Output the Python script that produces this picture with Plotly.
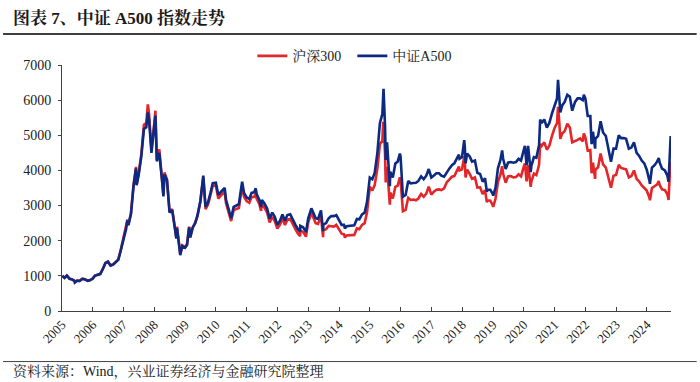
import plotly.graph_objects as go

# ---------------- data ----------------
dates = (
    ["2005-01-04", "2005-01-31", "2005-02-28", "2005-03-31", "2005-04-29", "2005-05-31", "2005-06-03", "2005-06-30", "2005-07-29", "2005-08-31", "2005-09-30", "2005-10-31", "2005-11-30", "2005-12-30"]
    + ["2006-01-26", "2006-02-28", "2006-03-31", "2006-04-28", "2006-05-31", "2006-06-30", "2006-07-31", "2006-08-31", "2006-09-29", "2006-10-31", "2006-11-30", "2006-12-29"]
    + ["2007-01-31", "2007-02-16", "2007-02-27", "2007-03-30", "2007-04-30", "2007-05-29", "2007-06-05", "2007-06-29", "2007-07-31", "2007-08-31", "2007-09-28", "2007-10-16", "2007-10-31", "2007-11-28", "2007-12-31"]
    + ["2008-01-14", "2008-01-31", "2008-02-29", "2008-03-31", "2008-04-18", "2008-04-30", "2008-05-30", "2008-06-30", "2008-07-31", "2008-08-29", "2008-09-18", "2008-09-26", "2008-10-31", "2008-11-04", "2008-11-28", "2008-12-31"]
    + ["2009-01-23", "2009-02-17", "2009-03-02", "2009-03-31", "2009-04-30", "2009-05-27", "2009-06-30", "2009-07-31", "2009-08-04", "2009-08-31", "2009-09-30", "2009-10-30", "2009-11-24", "2009-12-31"]
    + ["2010-01-29", "2010-02-26", "2010-03-31", "2010-04-15", "2010-04-30", "2010-05-31", "2010-06-30", "2010-07-30", "2010-08-31", "2010-09-30", "2010-10-29", "2010-11-08", "2010-11-30", "2010-12-31"]
    + ["2011-01-31", "2011-02-28", "2011-03-31", "2011-04-18", "2011-04-29", "2011-05-31", "2011-06-20", "2011-06-30", "2011-07-29", "2011-08-31", "2011-09-30", "2011-10-31", "2011-11-30", "2011-12-30"]
    + ["2012-01-31", "2012-02-29", "2012-03-30", "2012-04-27", "2012-05-31", "2012-06-29", "2012-07-31", "2012-08-31", "2012-09-26", "2012-09-28", "2012-10-31", "2012-11-30", "2012-12-03", "2012-12-31"]
    + ["2013-01-31", "2013-02-06", "2013-02-28", "2013-03-29", "2013-04-26", "2013-05-31", "2013-06-25", "2013-06-28", "2013-07-31", "2013-08-30", "2013-09-30", "2013-10-31", "2013-11-29", "2013-12-31"]
    + ["2014-01-31", "2014-02-28", "2014-03-11", "2014-03-31", "2014-04-30", "2014-05-30", "2014-06-30", "2014-07-31", "2014-08-29", "2014-09-30", "2014-10-31", "2014-11-28", "2014-12-31"]
    + ["2015-01-30", "2015-02-27", "2015-03-31", "2015-04-30", "2015-05-29", "2015-06-08", "2015-06-12", "2015-06-30", "2015-07-08", "2015-07-24", "2015-08-26", "2015-08-31", "2015-09-30", "2015-10-30", "2015-11-27", "2015-12-23", "2015-12-31"]
    + ["2016-01-28", "2016-02-29", "2016-03-31", "2016-04-29", "2016-05-31", "2016-06-30", "2016-07-29", "2016-08-31", "2016-09-30", "2016-10-31", "2016-11-29", "2016-12-30"]
    + ["2017-01-26", "2017-02-28", "2017-03-31", "2017-04-28", "2017-05-31", "2017-06-30", "2017-07-31", "2017-08-31", "2017-09-29", "2017-10-31", "2017-11-22", "2017-11-30", "2017-12-29"]
    + ["2018-01-24", "2018-01-31", "2018-02-09", "2018-02-28", "2018-03-30", "2018-04-27", "2018-05-31", "2018-06-29", "2018-07-31", "2018-08-31", "2018-09-28", "2018-10-19", "2018-10-31", "2018-11-30", "2018-12-28"]
    + ["2019-01-03", "2019-01-31", "2019-02-28", "2019-03-29", "2019-04-19", "2019-04-30", "2019-05-31", "2019-06-28", "2019-07-31", "2019-08-30", "2019-09-30", "2019-10-31", "2019-11-29", "2019-12-31"]
    + ["2020-01-14", "2020-02-03", "2020-02-21", "2020-03-23", "2020-03-31", "2020-04-30", "2020-05-29", "2020-06-30", "2020-07-13", "2020-07-31", "2020-08-31", "2020-09-30", "2020-10-30", "2020-11-30", "2020-12-31"]
    + ["2021-01-29", "2021-02-10", "2021-02-26", "2021-03-09", "2021-03-31", "2021-04-30", "2021-05-31", "2021-06-30", "2021-07-28", "2021-08-31", "2021-09-30", "2021-10-29", "2021-11-30", "2021-12-13", "2021-12-31"]
    + ["2022-01-28", "2022-02-28", "2022-03-15", "2022-03-31", "2022-04-26", "2022-04-29", "2022-05-31", "2022-06-30", "2022-07-29", "2022-08-31", "2022-09-30", "2022-10-31", "2022-11-30", "2022-12-30"]
    + ["2023-01-31", "2023-02-28", "2023-03-31", "2023-04-28", "2023-05-31", "2023-06-30", "2023-07-31", "2023-08-31", "2023-09-28", "2023-10-31", "2023-11-30", "2023-12-29"]
    + ["2024-01-31", "2024-02-05", "2024-02-29", "2024-03-31", "2024-04-30", "2024-05-20", "2024-05-31", "2024-06-28", "2024-07-31", "2024-08-30", "2024-09-13", "2024-09-30", "2024-10-08", "2024-10-11"]
)

hs300 = (
    [1000, 940, 1010, 920, 905, 860, 820, 870, 860, 920, 905, 870, 880, 923]
    + [1010, 1040, 1060, 1190, 1370, 1410, 1300, 1330, 1400, 1470, 1750, 2041]
    + [2355, 2600, 2450, 2780, 3600, 4100, 3600, 3900, 4470, 5300, 5350, 5877, 5600, 4600, 5338]
    + [5700, 4300, 4600, 3790, 3300, 3940, 3750, 2830, 2900, 2430, 2100, 2400, 1800, 1627, 1870, 1817]
    + [1900, 2400, 2100, 2370, 2500, 2700, 3100, 3650, 3800, 2900, 3040, 3320, 3560, 3575]
    + [3200, 3280, 3350, 3400, 3070, 2800, 2560, 2870, 2900, 2930, 3400, 3550, 3250, 3128]
    + [3080, 3240, 3250, 3350, 3200, 3040, 2850, 3040, 2950, 2800, 2520, 2680, 2560, 2345]
    + [2460, 2630, 2450, 2600, 2620, 2460, 2330, 2200, 2130, 2290, 2250, 2140, 2110, 2522]
    + [2790, 2800, 2670, 2500, 2480, 2700, 2100, 2300, 2330, 2420, 2410, 2400, 2450, 2330]
    + [2200, 2180, 2090, 2150, 2160, 2160, 2165, 2350, 2330, 2450, 2500, 2800, 3533]
    + [3430, 3580, 4050, 4750, 4840, 5380, 5335, 4470, 3660, 4100, 3025, 3370, 3200, 3530, 3570, 3800, 3730]
    + [2840, 2880, 3220, 3160, 3170, 3150, 3200, 3330, 3250, 3340, 3540, 3310]
    + [3390, 3450, 3460, 3440, 3490, 3660, 3740, 3820, 3840, 4000, 4110, 4000, 4030]
    + [4400, 4270, 3800, 4020, 3900, 3760, 3800, 3510, 3520, 3330, 3440, 3100, 3150, 3140, 3010]
    + [2965, 3200, 3670, 3870, 4120, 3910, 3650, 3830, 3840, 3800, 3810, 3890, 3830, 4100]
    + [4200, 3690, 4150, 3530, 3690, 3910, 3870, 4160, 4750, 4700, 4800, 4590, 4700, 4980, 5210]
    + [5350, 5807, 5340, 4900, 5050, 5120, 5330, 5220, 4800, 4830, 4870, 4910, 4830, 5050, 4940]
    + [4560, 4580, 3920, 4220, 3760, 4020, 4090, 4480, 4170, 4080, 3800, 3510, 3850, 3870]
    + [4160, 4070, 4050, 4030, 3800, 3840, 4000, 3760, 3690, 3570, 3500, 3430]
    + [3220, 3150, 3500, 3540, 3600, 3700, 3580, 3460, 3440, 3320, 3160, 4017, 4256, 3890]
)

a500 = (
    [1000, 945, 1005, 915, 900, 850, 810, 860, 855, 915, 900, 860, 875, 915]
    + [1000, 1030, 1050, 1180, 1360, 1400, 1290, 1320, 1390, 1455, 1730, 2010]
    + [2330, 2580, 2440, 2760, 3560, 4060, 3580, 3870, 4400, 5180, 5230, 5650, 5430, 4500, 5240]
    + [5560, 4260, 4500, 3760, 3260, 3880, 3720, 2800, 2870, 2400, 2060, 2360, 1770, 1590, 1850, 1800]
    + [1880, 2380, 2090, 2370, 2510, 2720, 3130, 3700, 3850, 2960, 3100, 3380, 3640, 3650]
    + [3300, 3380, 3450, 3500, 3170, 2900, 2640, 2960, 3000, 3040, 3520, 3680, 3360, 3230]
    + [3190, 3360, 3380, 3490, 3330, 3160, 2960, 3160, 3070, 2920, 2630, 2800, 2680, 2450]
    + [2570, 2750, 2570, 2730, 2750, 2590, 2460, 2330, 2260, 2420, 2380, 2270, 2240, 2640]
    + [2900, 2920, 2800, 2640, 2620, 2860, 2270, 2460, 2500, 2640, 2700, 2700, 2730, 2600]
    + [2450, 2450, 2350, 2410, 2420, 2430, 2440, 2620, 2610, 2750, 2800, 3100, 3800]
    + [3750, 3930, 4500, 5350, 5600, 6300, 6320, 5250, 4300, 4800, 3550, 3960, 3800, 4200, 4250, 4480, 4400]
    + [3250, 3300, 3700, 3630, 3640, 3650, 3700, 3830, 3750, 3850, 4040, 3800]
    + [3850, 3920, 3920, 3850, 3820, 3950, 4050, 4150, 4200, 4350, 4450, 4330, 4380]
    + [4860, 4680, 4200, 4480, 4400, 4250, 4280, 3930, 3900, 3680, 3780, 3400, 3450, 3450, 3330]
    + [3280, 3520, 4060, 4290, 4570, 4340, 4040, 4220, 4240, 4220, 4240, 4330, 4280, 4580]
    + [4700, 4150, 4700, 3950, 4130, 4380, 4360, 4720, 5450, 5350, 5450, 5220, 5350, 5620, 5880]
    + [6050, 6580, 6100, 5650, 5850, 5950, 6150, 6100, 5700, 5950, 6050, 6050, 6000, 6150, 6050]
    + [5550, 5550, 4750, 5100, 4620, 4900, 4980, 5400, 5080, 4980, 4620, 4250, 4620, 4620]
    + [5000, 4920, 4920, 4900, 4620, 4650, 4800, 4500, 4420, 4280, 4200, 4020]
    + [3700, 3620, 4080, 4150, 4250, 4350, 4220, 4050, 4000, 3850, 3680, 4700, 4980, 4530]
)

assert len(dates) == len(hs300) == len(a500), (len(dates), len(hs300), len(a500))

year_labels = [str(y) for y in range(2005, 2025)]
year_ticks = [f"{y}-01-01" for y in year_labels]
y_ticks = [0, 1000, 2000, 3000, 4000, 5000, 6000, 7000]

series_names = ["沪深300", "中证A500"]
title_text = "图表 7、中证 A500 指数走势"
source_text = "资料来源：Wind，兴业证券经济与金融研究院整理"

# ---------------- layout geometry (pixels) ----------------
W, H = 700, 382
L, R, T, B = 62, 671.3, 64.7, 311.3
pw, ph = R - L, B - T


def px(x):
    return (x - L) / pw


def py(y):
    return (B - y) / ph


FONT = "Liberation Serif, Noto Serif CJK SC, Noto Sans CJK SC, serif"
RED = "#E3262A"
BLUE = "#0C2A82"

fig = go.Figure()
fig.add_trace(go.Scatter(x=dates, y=hs300, mode="lines", name=series_names[0],
                         line=dict(color=RED, width=2.6)))
fig.add_trace(go.Scatter(x=dates, y=a500, mode="lines", name=series_names[1],
                         line=dict(color=BLUE, width=2.6)))

fig.update_layout(
    width=W, height=H,
    margin=dict(l=L, r=W - R, t=T, b=H - B, pad=0, autoexpand=False),
    paper_bgcolor="white", plot_bgcolor="white",
    font=dict(family=FONT, size=14, color="#222222"),
    showlegend=True,
    legend=dict(orientation="h", x=px(352.5), y=py(56), xanchor="center", yanchor="middle",
                font=dict(size=14, family=FONT), bgcolor="rgba(0,0,0,0)",
                itemwidth=30, entrywidth=55, tracegroupgap=0),
    xaxis=dict(type="date", range=["2005-01-01", "2024-10-12"],
               tickmode="array", tickvals=year_ticks, ticktext=year_labels,
               tickangle=-45, ticks="inside", ticklen=4, tickcolor="#404040",
               showline=True, linecolor="#404040", linewidth=1,
               showgrid=False, zeroline=False,
               tickfont=dict(size=13, family=FONT, color="#222222")),
    yaxis=dict(range=[0, 7000], tickmode="array", tickvals=y_ticks,
               ticks="outside", ticklen=3, tickcolor="#404040",
               showline=True, linecolor="#404040", linewidth=1,
               showgrid=False, zeroline=False, ticklabelstandoff=4,
               tickfont=dict(size=14, family=FONT, color="#222222")),
    annotations=[
        dict(text="<b>" + title_text + "</b>", xref="paper", yref="paper",
             x=px(11), y=py(18), xanchor="left", yanchor="middle", showarrow=False,
             font=dict(size=17, family=FONT, color="#1a1a1a")),
        dict(text=source_text, xref="paper", yref="paper",
             x=px(11), y=py(372), xanchor="left", yanchor="middle", showarrow=False,
             font=dict(size=14, family=FONT, color="#1a1a1a")),
    ],
    shapes=[
        dict(type="line", xref="paper", yref="paper", x0=px(3), x1=px(697), y0=py(33.5), y1=py(33.5),
             line=dict(color="#404040", width=2)),
        dict(type="line", xref="paper", yref="paper", x0=px(3), x1=px(697), y0=py(362), y1=py(362),
             line=dict(color="#404040", width=1)),
    ],
)

fig.write_html(
    "out.html",
    config={"displayModeBar": False},
    post_script="document.body.style.margin='0px';document.body.style.overflow='hidden';",
)
